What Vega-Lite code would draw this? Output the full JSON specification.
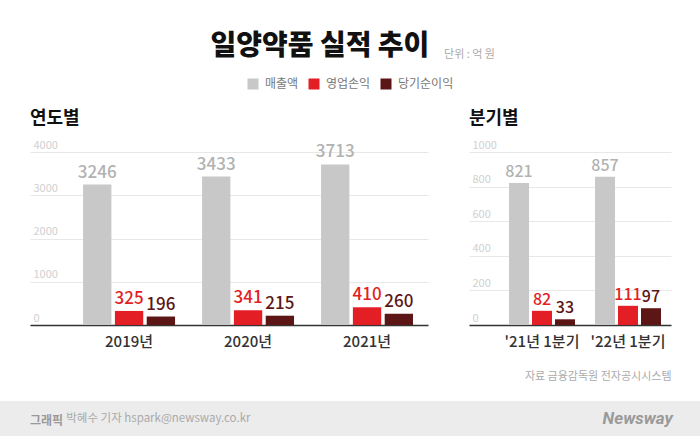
{
  "$schema": "https://vega.github.io/schema/vega-lite/v6.json",
  "background": "white",
  "padding": {"left": 0, "right": 0, "top": 33, "bottom": 0},
  "config": {
    "font": "Noto Sans CJK KR, DejaVu Sans",
    "view": {"stroke": null},
    "legend": {
      "orient": "top",
      "direction": "horizontal",
      "layout": {"top": {"anchor": "middle"}},
      "title": null,
      "symbolType": "square",
      "symbolSize": 121,
      "symbolStrokeWidth": 0,
      "symbolOpacity": 1,
      "labelFontSize": 12,
      "labelColor": "#777777",
      "labelOffset": 6,
      "columnPadding": 9,
      "padding": 0,
      "offset": 20
    },
    "axisX": {
      "domain": true,
      "domainColor": "#333333",
      "domainWidth": 1.5,
      "ticks": false,
      "grid": false,
      "labelAngle": 0,
      "labelFontSize": 15,
      "labelColor": "#333333",
      "labelFontWeight": 500,
      "labelPadding": 9
    },
    "axisY": {
      "grid": true,
      "gridColor": "#e8e8e8",
      "domain": false,
      "ticks": false,
      "format": "d",
      "labelAlign": "left",
      "labelBaseline": "bottom",
      "labelPadding": -3,
      "labelOffset": -2,
      "labelColor": "#d0d0d0",
      "labelFontSize": 11,
      "labelOverlap": false,
      "title": null
    }
  },
  "title": {
    "text": "일양약품 실적 추이⠀⠀⠀",
    "subtitle": "단위 : 억 원",
    "anchor": "start",
    "align": "right",
    "frame": "group",
    "dx": 495,
    "fontSize": 28,
    "fontWeight": 900,
    "color": "#111111",
    "subtitleFontSize": 11,
    "subtitleColor": "#aaaaaa",
    "subtitlePadding": -12,
    "offset": 17
  },
  "concat": [
    {
      "hconcat": [
        {
          "width": 428,
          "height": 173,
          "title": {"text": "연도별", "anchor": "start", "frame": "group", "dx": 30, "fontSize": 18, "fontWeight": "bold", "color": "#111111", "offset": 11},
          "data": {"values": [
            {"period": "2019년", "metric": "매출액", "value": 3246},
            {"period": "2019년", "metric": "영업손익", "value": 325},
            {"period": "2019년", "metric": "당기순이익", "value": 196},
            {"period": "2020년", "metric": "매출액", "value": 3433},
            {"period": "2020년", "metric": "영업손익", "value": 341},
            {"period": "2020년", "metric": "당기순이익", "value": 215},
            {"period": "2021년", "metric": "매출액", "value": 3713},
            {"period": "2021년", "metric": "영업손익", "value": 410},
            {"period": "2021년", "metric": "당기순이익", "value": 260}
          ]},
          "encoding": {
            "x": {"field": "period", "type": "nominal", "sort": null, "title": null,
                  "scale": {"range": [30, 428], "paddingInner": 0.227, "paddingOuter": 0.286, "align": 0.78}},
            "xOffset": {"field": "metric", "type": "nominal", "sort": ["매출액", "영업손익", "당기순이익"], "scale": {"paddingInner": 0.11, "paddingOuter": 0}},
            "y": {"field": "value", "type": "quantitative", "scale": {"domain": [0, 4000]},
                  "axis": {"values": [0, 1000, 2000, 3000, 4000], "labelPadding": -33, "minExtent": 0, "maxExtent": 0}}
          },
          "layer": [
            {"mark": {"type": "bar"},
             "encoding": {"color": {"field": "metric", "type": "nominal", "sort": ["매출액", "영업손익", "당기순이익"],
               "scale": {"domain": ["매출액", "영업손익", "당기순이익"], "range": ["#c8c8c8", "#e31e25", "#5c1616"]}}}},
            {"mark": {"type": "text", "baseline": "bottom", "dy": -3, "fontSize": 17, "fontWeight": 500},
             "encoding": {"text": {"field": "value", "type": "quantitative", "format": "d"},
               "color": {"field": "metric", "type": "nominal", "sort": ["매출액", "영업손익", "당기순이익"],
                 "condition": {"test": "datum.metric === '매출액'", "value": "#b2b2b2"}}}}
          ]
        },
        {
          "width": 202,
          "height": 173,
          "title": {"text": "분기별", "anchor": "start", "frame": "group", "fontSize": 18, "fontWeight": "bold", "color": "#111111", "offset": 11},
          "data": {"values": [
            {"period": "'21년 1분기", "metric": "매출액", "value": 821},
            {"period": "'21년 1분기", "metric": "영업손익", "value": 82},
            {"period": "'21년 1분기", "metric": "당기순이익", "value": 33},
            {"period": "'22년 1분기", "metric": "매출액", "value": 857},
            {"period": "'22년 1분기", "metric": "영업손익", "value": 111},
            {"period": "'22년 1분기", "metric": "당기순이익", "value": 97}
          ]},
          "encoding": {
            "x": {"field": "period", "type": "nominal", "sort": null,
                  "scale": {"paddingInner": 0.233, "paddingOuter": 0.291, "align": 0.8},
                  "axis": {"title": "자료  금융감독원 전자공시시스템", "titleAnchor": "end", "titleFontSize": 11, "titleColor": "#aaaaaa", "titleFontWeight": "normal", "titlePadding": 21}},
            "xOffset": {"field": "metric", "type": "nominal", "sort": ["매출액", "영업손익", "당기순이익"], "scale": {"paddingInner": 0.13, "paddingOuter": 0}},
            "y": {"field": "value", "type": "quantitative", "scale": {"domain": [0, 1000]},
                  "axis": {"values": [0, 200, 400, 600, 800, 1000], "minExtent": 0, "maxExtent": 0}}
          },
          "layer": [
            {"mark": {"type": "bar"},
             "encoding": {"color": {"field": "metric", "type": "nominal", "sort": ["매출액", "영업손익", "당기순이익"],
               "scale": {"domain": ["매출액", "영업손익", "당기순이익"], "range": ["#c8c8c8", "#e31e25", "#5c1616"]}}}},
            {"mark": {"type": "text", "baseline": "bottom", "dy": -3, "fontSize": 16, "fontWeight": 500},
             "encoding": {"text": {"field": "value", "type": "quantitative", "format": "d"},
               "color": {"field": "metric", "type": "nominal", "sort": ["매출액", "영업손익", "당기순이익"],
                 "condition": {"test": "datum.metric === '매출액'", "value": "#b2b2b2"}}}}
          ]
        }
      ],
      "spacing": 41,
      "resolve": {"scale": {"x": "independent", "y": "independent", "xOffset": "independent"}}
    },
    {
      "width": 700,
      "height": 35,
      "view": {"fill": "#ececec", "stroke": null},
      "title": {"text": "그래픽", "subtitle": "⠀⠀⠀⠀ 박혜수 기자 hspark@newsway.co.kr", "anchor": "start", "frame": "group", "dx": 30, "dy": 29,
                "fontSize": 12, "fontWeight": "bold", "color": "#999999", "subtitleFontSize": 11.5, "subtitleColor": "#aaaaaa", "subtitlePadding": -15, "offset": 0},
      "data": {"values": [{"brand": "Newsway"}]},
      "mark": {"type": "text", "fontStyle": "italic", "fontWeight": "bold", "fontSize": 17, "color": "#9a9a9a", "font": "Roboto"},
      "encoding": {
        "x": {"field": "brand", "type": "nominal", "axis": null, "scale": {"align": 0.911}},
        "text": {"field": "brand"}
      }
    }
  ],
  "columns": 1,
  "align": "none",
  "spacing": 20
}
